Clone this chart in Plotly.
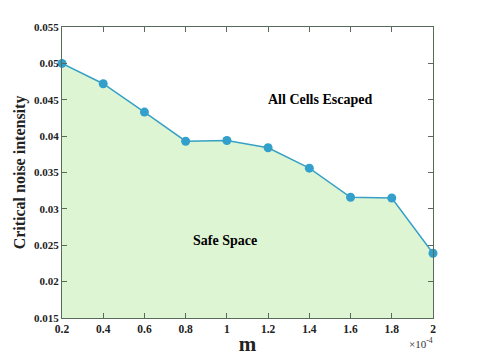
import plotly.graph_objects as go

m_vals = [0.2, 0.4, 0.6, 0.8, 1.0, 1.2, 1.4, 1.6, 1.8, 2.0]
noise_crit = [0.0500, 0.0472, 0.0433, 0.0393, 0.0394, 0.0384, 0.0356, 0.0316, 0.0315, 0.0239]

x_ticks = [0.2, 0.4, 0.6, 0.8, 1.0, 1.2, 1.4, 1.6, 1.8, 2.0]
x_labels = ["0.2", "0.4", "0.6", "0.8", "1", "1.2", "1.4", "1.6", "1.8", "2"]
y_ticks = [0.015, 0.02, 0.025, 0.03, 0.035, 0.04, 0.045, 0.05, 0.055]
y_labels = ["0.015", "0.02", "0.025", "0.03", "0.035", "0.04", "0.045", "0.05", "0.055"]

serif = "Liberation Serif, Times New Roman, serif"
axis_col = "#5a6a5a"

fig = go.Figure()
fig.add_trace(go.Scatter(
    x=m_vals, y=noise_crit,
    mode="lines+markers",
    fill="tozeroy",
    fillcolor="#def5d3",
    line=dict(color="#37a0c6", width=1.5),
    marker=dict(color="#33a0cc", size=9),
    cliponaxis=False,
    showlegend=False,
))

fig.add_annotation(x=1.45, y=0.0450, text="<b>All Cells Escaped</b>", showarrow=False,
                   font=dict(family=serif, size=14, color="black"))
fig.add_annotation(x=0.99, y=0.0256, text="<b>Safe Space</b>", showarrow=False,
                   font=dict(family=serif, size=14, color="black"))
fig.add_annotation(x=1, y=0, xref="paper", yref="paper", xanchor="right", yanchor="top",
                   yshift=-16, xshift=2, text="×10<sup>-4</sup>", showarrow=False,
                   font=dict(family=serif, size=11, color="#333"))

# page body adds an 8px offset, so the figure is a bit smaller than the window
fig.update_layout(
    width=470, height=351,
    margin=dict(l=54, r=45, t=19, b=41),
    paper_bgcolor="white", plot_bgcolor="white",
    font=dict(family=serif, color="#222"),
)
fig.update_xaxes(
    range=[0.2, 2.0], tickvals=x_ticks, ticktext=[f"<b>{t}</b>" for t in x_labels],
    tickfont=dict(size=11.5, family=serif, color="#222"),
    ticks="inside", ticklen=5, tickcolor=axis_col, automargin=False,
    showline=True, linecolor=axis_col, linewidth=1, mirror="ticks",
    showgrid=False, zeroline=False,
    title=dict(text="<b>m</b>", font=dict(size=21, family=serif, color="#222"), standoff=2),
)
fig.update_yaxes(
    range=[0.015, 0.055], tickvals=y_ticks, ticktext=[f"<b>{t}</b>" for t in y_labels],
    tickfont=dict(size=11, family=serif, color="#222"),
    ticks="inside", ticklen=5, tickcolor=axis_col, automargin=False,
    showline=True, linecolor=axis_col, linewidth=1, mirror="ticks",
    showgrid=False, zeroline=False,
    title=dict(text="<b>Critical noise intensity</b>", font=dict(size=16, family=serif, color="#222"), standoff=4),
)

fig.write_html("out.html")
